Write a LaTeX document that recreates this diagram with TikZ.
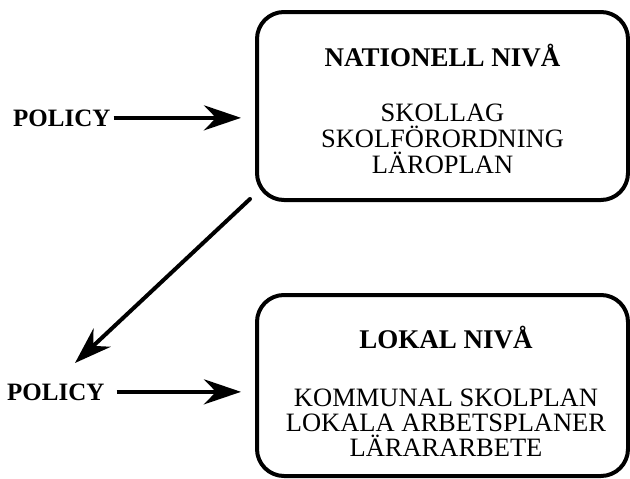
\documentclass[tikz,border=0pt]{standalone}
\usepackage{fontspec}
\setmainfont{Liberation Serif}
\usetikzlibrary{arrows.meta}
\begin{document}
\begin{tikzpicture}[x=1pt,y=-1pt,
  levelbox/.style={draw, line width=4pt, rounded corners=27pt, minimum width=371pt, inner sep=0pt},
  heading/.style={anchor=base, inner sep=0pt, font=\bfseries\fontsize{27}{27}\selectfont},
  itemline/.style={anchor=base, inner sep=0pt, font=\fontsize{26.5}{25}\selectfont},
  policy/.style={anchor=base west, inner sep=0pt, font=\bfseries\fontsize{25}{25}\selectfont},
  arr/.style={line width=4pt, -{Stealth[length=37pt, width=25pt, inset=12pt]}}]
\useasboundingbox (0,0) rectangle (630,479);
% boxes
\node[levelbox, minimum height=188pt] (natbox) at (442.5,106) {};
\node[levelbox, minimum height=181pt] (lokbox) at (442.5,385.5) {};
% top box texts
\node[heading] (nath) at (442.5,66.5) {NATIONELL NIVÅ};
\node[itemline] (n1) at (442.5,121) {SKOLLAG};
\node[itemline] (n2) at (442.5,147) {SKOLFÖRORDNING};
\node[itemline] (n3) at (442.5,173) {LÄROPLAN};
% bottom box texts
\node[heading] (lokh) at (446,348.5) {LOKAL NIVÅ};
\node[itemline] (l1) at (446,406) {KOMMUNAL SKOLPLAN};
\node[itemline] (l2) at (446,431) {LOKALA ARBETSPLANER};
\node[itemline] (l3) at (446,456) {LÄRARARBETE};
% policy labels
\node[policy] (pol1) at (13,126) {POLICY};
\node[policy] (pol2) at (7,400) {POLICY};
% arrows
\draw[arr, shorten <=3pt, shorten >=14pt] (pol1.east) -- (pol1.east -| natbox.west);
\draw[arr, shorten <=12pt, shorten >=14pt] (pol2.east) -- (pol2.east -| lokbox.west);
\coordinate (dstart) at (250,199);
\coordinate (dend) at (75,363);
\draw[arr, line cap=round] (dstart) -- (dend);
\end{tikzpicture}
\end{document}
